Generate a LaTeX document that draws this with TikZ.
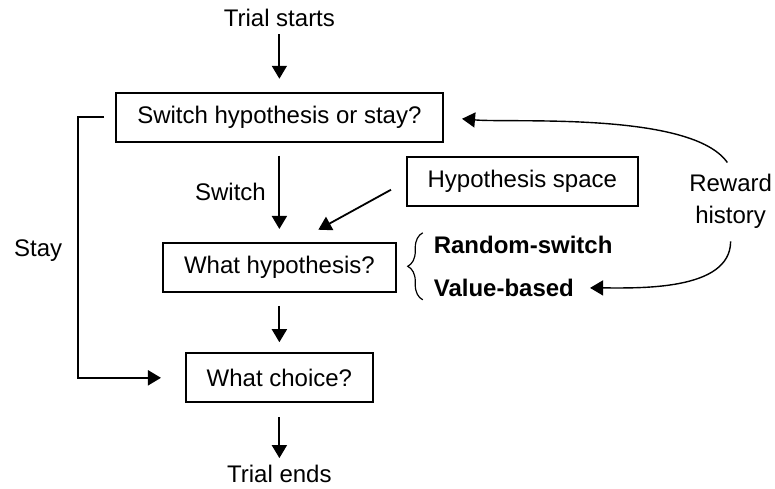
\documentclass[tikz,border=0pt]{standalone}
\usepackage{fontspec}
\setmainfont{Liberation Sans}
\usetikzlibrary{positioning}
\usetikzlibrary{arrows.meta}
\usetikzlibrary{decorations.pathreplacing}
\tikzset{>={Triangle[length=6.5pt,width=7.5pt]}}
\tikzset{lbl/.style={font=\fontsize{12pt}{16pt}\selectfont}}
\tikzset{opt/.style={font=\fontsize{12pt}{16pt}\selectfont\bfseries}}
\tikzset{stepbox/.style={draw, rectangle, minimum height=0.86cm, inner sep=0pt, line width=0.9pt}}
\tikzset{flow/.style={->, line width=0.9pt}}

\begin{document}
\begin{tikzpicture}[on grid, every node/.style={lbl}]
        \useasboundingbox (-4.91,2.06) rectangle (8.71,-6.52);

        \node[stepbox, minimum width=5.75cm] (sw) at (0, 0) {Switch hypothesis or stay?};
        \node (start) [above=1.74 of sw] {Trial starts};
        \node[stepbox, minimum width=4.09cm, below=2.64 of sw] (wh) {What hypothesis?};
        \node[stepbox, minimum width=3.29cm, below=1.94 of wh] (ch) {What choice?};
        \node (stop) [below=1.69 of ch] {Trial ends};

        \node[stepbox, minimum width=4.06cm, below right=1.13 and 4.27 of sw] (hs) {Hypothesis space};
        \node[align=center, below right=1.48 and 7.93 of sw] (rw) {Reward\\history};
        \node (stay) [below left=2.34 and 4.24 of sw] {Stay};

        \node[opt, above right=0.4 and 2.59 of wh, anchor=west] (rs) {Random-switch};
        \node[opt, below right=0.36 and 2.59 of wh, anchor=west] (vb) {Value-based};

        \draw [flow, shorten >=0.23cm] (start) -- (sw);
        \draw [flow, shorten <=0.23cm, shorten >=0.23cm] (sw) -- node[midway, anchor=east, xshift=-3pt] (swl) {Switch} (wh);
        \draw [flow, shorten <=0.23cm, shorten >=0.18cm] (wh) -- (ch);
        \draw [flow, shorten <=0.25cm] (ch) -- (stop);

        \draw [flow, shorten <=0.19cm, shorten >=0.42cm] (sw.west) -- ++(-0.65,0) |- (ch.west);
        \draw [flow, shorten <=0.3cm, shorten >=0.45cm] (hs.west) -- ([xshift=0.29cm]wh.north);

        \draw [flow, line width=0.7pt, shorten <=0.1cm, shorten >=0.32cm] (rw.north) to[out=125, in=-5, looseness=0.6] (sw.east);
        \draw [flow, line width=0.7pt, shorten <=0.1cm, shorten >=0.16cm] (rw.south) to[out=-90, in=0, looseness=0.9] (vb.east);

        \draw [decorate, decoration={brace, amplitude=7.5pt}, line width=0.6pt]
         ([xshift=-2pt, yshift=2pt]vb.south west) -- ([xshift=-2pt, yshift=-2pt]rs.north west);
\end{tikzpicture}
\end{document}
